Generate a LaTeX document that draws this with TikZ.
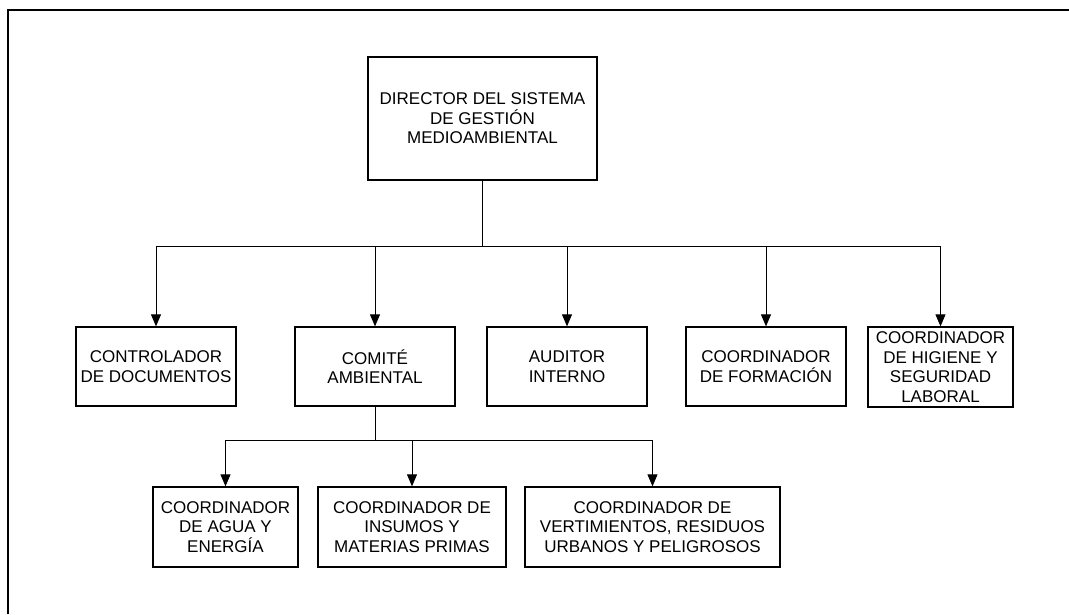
\documentclass[tikz,border=0pt]{standalone}
\usepackage{fontspec}
\setmainfont{Liberation Sans}
\usetikzlibrary{arrows.meta}
\begin{document}
\begin{tikzpicture}[x=1pt,y=-1pt,
  orgbox/.style={draw,line width=1.3pt,align=center,inner sep=1pt,
    font=\fontsize{17}{19.5}\selectfont},
  link/.style={line width=0.8pt},
  arr/.style={link,-{Triangle[length=12pt,width=10pt]}}]
\useasboundingbox (0,0) rectangle (1069,614);
% partial page frame
\draw[line width=2pt] (8,614) -- (8,10) -- (1069,10);

% top level
\node[orgbox,minimum width=229pt,minimum height=123pt] (dir) at (482.5,118.5)
  {DIRECTOR DEL SISTEMA\\DE GESTIÓN\\MEDIOAMBIENTAL};

% second level
\node[orgbox,minimum width=160pt,minimum height=79pt] (ctrl) at (156,366.5)
  {CONTROLADOR\\DE DOCUMENTOS};
\node[orgbox,minimum width=160pt,minimum height=79pt] (com) at (375,366.5)
  {COMITÉ\\AMBIENTAL};
\node[orgbox,minimum width=160pt,minimum height=79pt] (aud) at (567,366.5)
  {AUDITOR\\INTERNO};
\node[orgbox,minimum width=160pt,minimum height=79pt] (form) at (766,366.5)
  {COORDINADOR\\DE FORMACIÓN};
\node[orgbox,minimum width=145pt,minimum height=80pt] (hig) at (940.5,367)
  {COORDINADOR\\DE HIGIENE Y\\SEGURIDAD\\LABORAL};

% third level
\node[orgbox,minimum width=145pt,minimum height=80pt] (agua) at (225.5,527)
  {COORDINADOR\\DE AGUA Y\\ENERGÍA};
\node[orgbox,minimum width=188pt,minimum height=80pt] (ins) at (412,527)
  {COORDINADOR DE\\INSUMOS Y\\MATERIAS PRIMAS};
\node[orgbox,minimum width=255pt,minimum height=80pt] (vert) at (652.5,527)
  {COORDINADOR DE\\VERTIMIENTOS, RESIDUOS\\URBANOS Y PELIGROSOS};

% connectors
\coordinate (bus1) at (0,246);
\coordinate (bus2) at (0,440);
\draw[link] (dir.south) -- (dir.south |- bus1);
\draw[link] (ctrl.north |- bus1) -- (hig.north |- bus1);
\foreach \n in {ctrl,com,aud,form,hig}
  \draw[arr] (\n.north |- bus1) -- (\n.north);
\draw[link] (com.south) -- (com.south |- bus2);
\draw[link] (agua.north |- bus2) -- (vert.north |- bus2);
\foreach \n in {agua,ins,vert}
  \draw[arr] (\n.north |- bus2) -- (\n.north);
\end{tikzpicture}
\end{document}
